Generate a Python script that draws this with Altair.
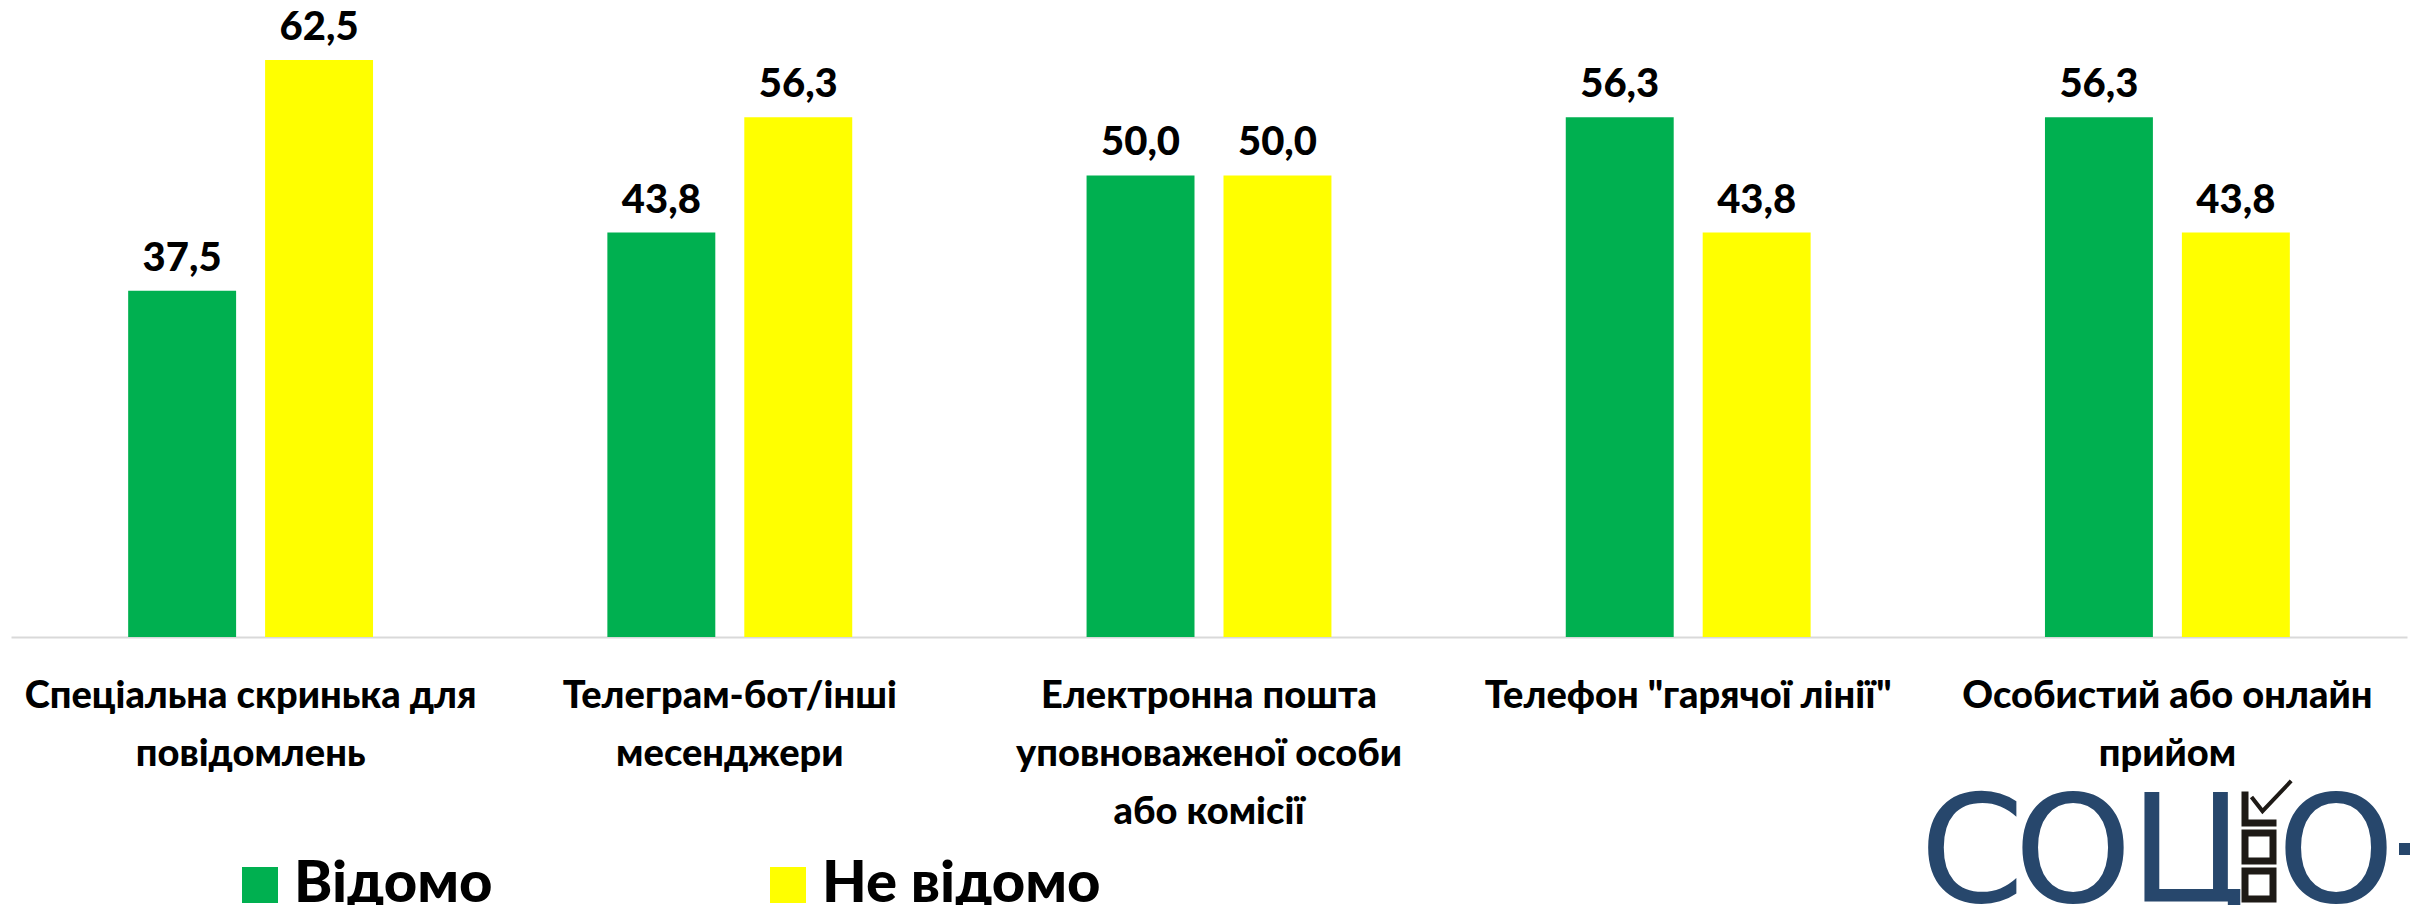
import altair as alt
import pandas as pd

categories = [
    "Спеціальна скринька для|повідомлень",
    "Телеграм-бот/інші|месенджери",
    "Електронна пошта|уповноваженої особи|або комісії",
    'Телефон "гарячої лінії"',
    "Особистий або онлайн|прийом",
]
series = ["Відомо", "Не відомо"]
known = [37.5, 43.8, 50.0, 56.3, 56.3]
unknown = [62.5, 56.3, 50.0, 43.8, 43.8]
colors = ["#00b050", "#ffff00"]

rows = []
for c, k, u in zip(categories, known, unknown):
    rows.append({"cat": c, "series": series[0], "value": k})
    rows.append({"cat": c, "series": series[1], "value": u})
df = pd.DataFrame(rows)
df["label"] = df["value"].map(lambda v: f"{v:.1f}".replace(".", ","))

FONT = "Lato"
OX, OY = 11, 8  # plot origin on the page

base = alt.Chart(df).encode(
    x=alt.X(
        "cat:N",
        sort=categories,
        scale=alt.Scale(paddingInner=0.489, paddingOuter=0.2445),
        axis=alt.Axis(
            title=None,
            labelExpr="split(datum.label, '|')",
            labelAngle=0,
            labelFont=FONT,
            labelFontWeight=900,
            labelFontSize=38,
            labelLineHeight=58,
            labelPadding=40,
            labelColor="black",
            labelBaseline="top",
            labelLimit=0,
            domainColor="#d9d9d9",
            domainWidth=2,
            ticks=False,
            grid=False,
        ),
    ),
    xOffset=alt.XOffset(
        "series:N", sort=series, scale=alt.Scale(paddingInner=0.2117, paddingOuter=0)
    ),
    y=alt.Y(
        "value:Q",
        scale=alt.Scale(domain=[0, 68.13], nice=False, zero=True),
        axis=None,
    ),
)

bars = base.mark_bar().encode(
    color=alt.Color(
        "series:N",
        sort=series,
        scale=alt.Scale(domain=series, range=colors),
        legend=alt.Legend(
            title=None,
            orient="none",
            legendX=220,
            legendY=848,
            direction="horizontal",
            symbolType="square",
            symbolSize=1296,
            symbolStrokeWidth=0,
            symbolOpacity=1,
            labelFont=FONT,
            labelFontWeight=900,
            labelFontSize=58,
            labelColor="black",
            labelOffset=5,
            columnPadding=266,
            padding=0,
            labelLimit=0,
        ),
    )
)

texts = base.mark_text(
    baseline="alphabetic",
    dy=-20,
    font=FONT,
    fontWeight=900,
    fontSize=40,
    color="black",
).encode(text="label:N")

LOGO_BLUE = "#27476c"
ICON_DARK = "#1e1a16"
one = pd.DataFrame({"t": [""]})


def logo_letter(txt, cx, py, size=150):
    return alt.Chart(pd.DataFrame({"t": [txt]})).mark_text(
        align="center", baseline="alphabetic", font="DejaVu Sans", fontSize=size,
        color=LOGO_BLUE,
    ).encode(x=alt.value(cx - OX), y=alt.value(py - OY), text="t:N")


def icon_shape(shape, px, py, side, sw):
    return alt.Chart(one).mark_point(
        shape=shape, filled=False, size=side * side, strokeWidth=sw,
        color=ICON_DARK, opacity=1, strokeCap="square", strokeJoin="miter",
    ).encode(x=alt.value(px - OX), y=alt.value(py - OY))


dash = alt.Chart(one).mark_rect(color=LOGO_BLUE).encode(
    x=alt.value(2399 - OX), x2=alt.value(2430 - OX),
    y=alt.value(843 - OY), y2=alt.value(855 - OY),
)

logo_layers = [
    logo_letter("С", 1972, 902),
    logo_letter("О", 2073, 902),
    logo_letter("Ц", 2188, 902),
    logo_letter("О", 2336, 902),
    dash,
    icon_shape("M-1,-1L-1,1L1,1", 2259, 809, 28, 7),
    icon_shape("M-0.45,-0.75L0.25,0.15L2.2,-1.9", 2259, 809, 28, 4),
    icon_shape("square", 2259, 847, 28, 7),
    icon_shape("square", 2259, 885, 28, 7),
]

chart = (
    alt.layer(bars, texts, *logo_layers)
    .properties(
        width=2396,
        height=629,
        autosize=alt.AutoSizeParams(type="none"),
        padding={"left": 3, "top": 0, "right": 3, "bottom": 268},
    )
    .configure_view(stroke=None)
)

chart.save("out.html", embed_options={"renderer": "svg", "actions": False})
